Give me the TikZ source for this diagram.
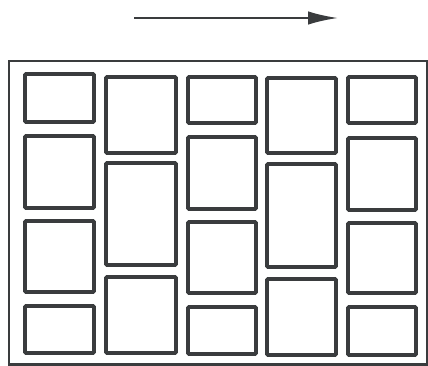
\documentclass[tikz,border=0pt]{standalone}
\usepackage{xcolor}
\usepackage{tikz}
\usetikzlibrary{arrows.meta}
\definecolor{BrickInk}{HTML}{3A3C3E}

\begin{document}
\begin{tikzpicture}[x=0.02cm,y=-0.02cm,
  brick/.style={BrickInk,line width=2.1pt,rounded corners=0.6pt},
  frame/.style={BrickInk,line width=1.7pt}]
\path[use as bounding box] (0,0) rectangle (428,365);
% direction of travel
\coordinate (flowstart) at (134,18);
\coordinate (flowend) at (338,18);
\draw[BrickInk,line width=1.3pt,-{Latex[length=0.6cm,width=0.27cm]}] (flowstart) -- (flowend);
% outer frame
\draw[frame] (427,61) -- (9,61) -- (9,364) -- (427,364) -- cycle;
% column 1
\draw[brick] (25,74) rectangle (94,122);
\draw[brick] (25,136) rectangle (94,208);
\draw[brick] (25,221) rectangle (94,292);
\draw[brick] (25,306) rectangle (94,353);
% column 2
\draw[brick] (106,77) rectangle (176,153);
\draw[brick] (106,163) rectangle (176,265);
\draw[brick] (106,277) rectangle (176,353);
% column 3
\draw[brick] (188,77) rectangle (256,123);
\draw[brick] (188,137) rectangle (256,209);
\draw[brick] (188,222) rectangle (256,293);
\draw[brick] (188,307) rectangle (256,354);
% column 4
\draw[brick] (267,78) rectangle (336,153);
\draw[brick] (267,164) rectangle (336,267);
\draw[brick] (267,279) rectangle (336,355);
% column 5
\draw[brick] (348,77) rectangle (416,123);
\draw[brick] (348,138) rectangle (416,210);
\draw[brick] (348,223) rectangle (416,293);
\draw[brick] (348,307) rectangle (416,355);
\end{tikzpicture}
\end{document}
